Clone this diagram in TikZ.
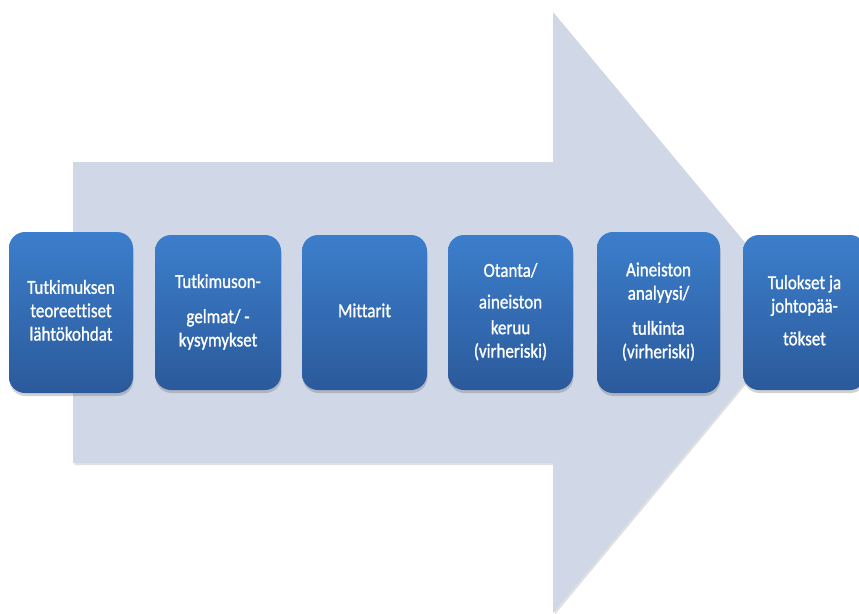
\documentclass[tikz,border=0pt]{standalone}
\usepackage{fontspec}
\setmainfont{Carlito}[Ligatures=NoCommon]
\newfontfamily\boxfont{Carlito}[Ligatures=NoCommon, FakeBold=1.2]
\usepackage{graphicx}
\usetikzlibrary{shadows}
\definecolor{arrowfill}{HTML}{D0D8E7}
\definecolor{boxtop}{HTML}{3C7ECC}
\definecolor{boxbot}{HTML}{2B5A9B}
\newcommand\stx[1]{\scalebox{1}[1.17]{\begin{tabular}{@{}c@{}}#1\end{tabular}}}
\tikzset{
  stepbox/.style={rectangle, rounded corners=16pt, top color=boxtop, bottom color=boxbot,
    draw=none, text=white, font=\boxfont\fontsize{17}{20}\selectfont, inner sep=0pt,
    drop shadow={shadow xshift=0.5pt, shadow yshift=-3pt, opacity=0.3, fill=black!60}},
  bigarrow/.style={fill=arrowfill, draw=none}
}
\begin{document}
\begin{tikzpicture}[x=1pt,y=-1pt]
\useasboundingbox (0,0) rectangle (859,613);
% arrow shadow
\fill[black!35, opacity=0.35] (74.5,164) -- (554.5,164) -- (554.5,14) -- (804.5,314) -- (554.5,615) -- (554.5,465) -- (74.5,465) -- cycle;
\fill[bigarrow] (73,162) -- (553,162) -- (553,12) -- (803,312.5) -- (553,613) -- (553,463) -- (73,463) -- cycle;
% boxes
\node[stepbox, minimum width=124pt, minimum height=161pt] (b1) at (71,312.5)
  {\stx{Tutkimuksen\\teoreettiset\\lähtökohdat}};
\node[stepbox, minimum width=126pt, minimum height=155pt] (b2) at (218,312.5)
  {\stx{Tutkimuson-\\[10pt]gelmat/ -\\kysymykset}};
\node[stepbox, minimum width=125pt, minimum height=155pt] (b3) at (364.5,312.5)
  {\stx{Mittarit}};
\node[stepbox, minimum width=125pt, minimum height=155pt] (b4) at (510.5,312.5)
  {\stx{Otanta/\\[7pt]aineiston\\[2pt]keruu\\(virheriski)}};
\node[stepbox, minimum width=123pt, minimum height=161pt] (b5) at (658.5,312.5)
  {\stx{Aineiston\\analyysi/\\[10pt]tulkinta\\(virheriski)}};
\node[stepbox, minimum width=123pt, minimum height=155pt] (b6) at (804.5,312.5)
  {\stx{Tulokset ja\\johtopää-\\[8pt]tökset}};
\end{tikzpicture}
\end{document}
